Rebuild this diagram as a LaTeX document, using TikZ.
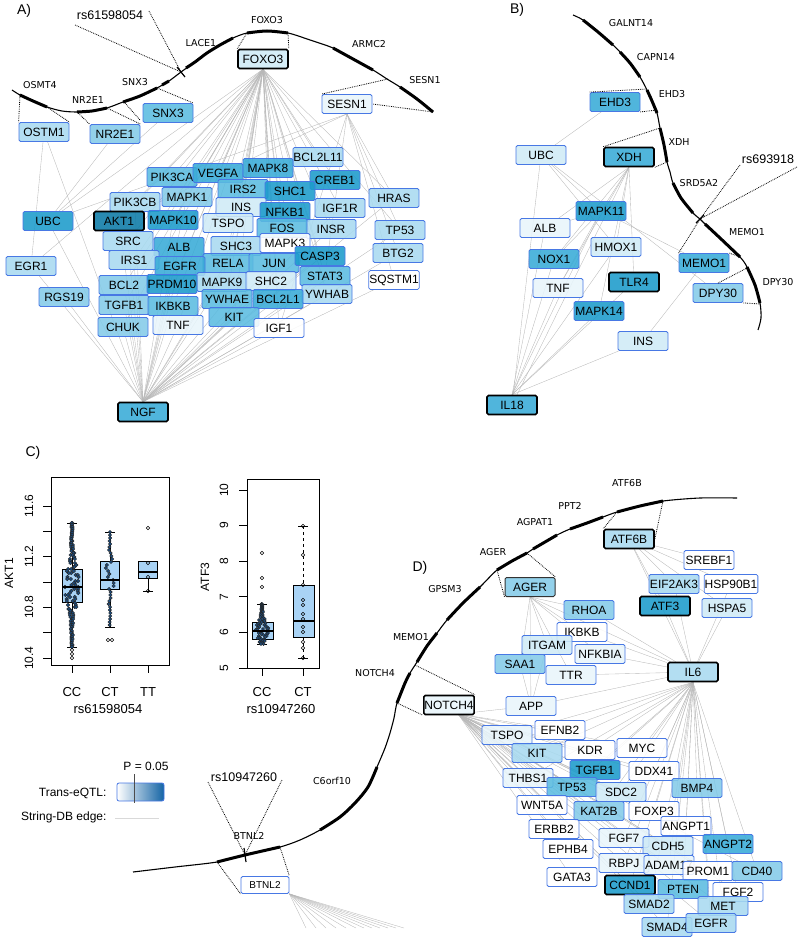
\documentclass[tikz,border=0pt]{standalone}
\usepackage{fontspec}
\setmainfont{Liberation Sans}
\newfontfamily\dvs{DejaVu Sans}
\usetikzlibrary{backgrounds}
\definecolor{nb}{RGB}{72,120,228}
\definecolor{c0}{HTML}{FFFFFF}
\definecolor{c1}{HTML}{E8F5FB}
\definecolor{c2}{HTML}{CFEAF6}
\definecolor{c3}{HTML}{A8DAF0}
\definecolor{c4}{HTML}{84CBE8}
\definecolor{c5}{HTML}{5BBCE0}
\definecolor{c6}{HTML}{38ABD7}
\definecolor{c7}{HTML}{1B9BCB}
\definecolor{c8}{HTML}{0B7AA6}
\definecolor{bxb}{HTML}{A9D3F5}
\definecolor{ptb}{HTML}{1C4C7E}
\definecolor{legb}{HTML}{1464A5}
\tikzset{
  gn/.style={draw=nb, line width=0.8pt, rounded corners=1.5pt, minimum width=50pt, minimum height=19pt, inner sep=0.5pt, font=\fontsize{12}{12}\selectfont, fill opacity=0.88, text opacity=1},
  hl/.style={draw=black, line width=1.6pt},
  edge/.style={draw=black!28, line width=0.35pt},
  dotl/.style={densely dotted, line width=0.8pt},
  chr/.style={line width=1.1pt},
  gene/.style={line width=3pt},
  glab/.style={font=\dvs\fontsize{9.5}{9.5}\selectfont},
  rslab/.style={font=\fontsize{12.5}{12.5}\selectfont},
  plab/.style={font=\fontsize{14}{14}\selectfont},
  axl/.style={font=\fontsize{12}{12}\selectfont},
  pt/.style={draw=black!85, fill=ptb, line width=0.4pt},
  hpt/.style={draw=black, fill=none, line width=0.6pt},
}
\begin{document}
\begin{tikzpicture}[x=1pt,y=-1pt]
\useasboundingbox (0,0) rectangle (799,939);
% ================= Panel A =================
\node[plab] (pA) at (24,11) {A)};
\draw[chr] plot[smooth,tension=0.5] coordinates {(12,90)(20,95)(33,101)(47,107)(62,111)(77,112)(92,111)(107,108)(123,102)(140,96)(157,88)(169,81)(181,72)(195,62)(207,53)(220,45)(233,38)(247,33)(267,31)(288,33)(310,40)(333,48)(353,59)(373,70)(387,79)(400,87)(417,99)(433,112)};
\draw[gene] plot[smooth] coordinates {(20,95)(33,101)(47,107)};
\draw[gene] plot[smooth] coordinates {(77,112)(92,111)(107,108)};
\draw[gene] plot[smooth] coordinates {(123,102)(140,96)(157,88)};
\draw[gene] plot[smooth] coordinates {(162,85)(169,81)};
\draw[gene] plot[smooth] coordinates {(186,68)(195,62)(207,53)(220,45)(233,38)};
\draw[gene] plot[smooth] coordinates {(247,33)(267,31)(288,33)};
\draw[gene] plot[smooth] coordinates {(333,48)(353,59)(373,70)};
\draw[gene] plot[smooth] coordinates {(400,87)(417,99)(433,112)};
\draw[line width=1.2pt] (177,67) -- (185,77);
\node[glab] (lOSMT4) at (40,85) {OSMT4};
\node[glab] (lNR2E1) at (88,100) {NR2E1};
\node[glab] (lSNX3) at (135,82) {SNX3};
\node[glab] (lLACE1) at (201,43) {LACE1};
\node[glab] (lFOXO3) at (267,20) {FOXO3};
\node[glab] (lARMC2) at (369,44) {ARMC2};
\node[glab] (lSESN1) at (425,80) {SESN1};
\node[rslab] (rsA) at (110,15) {rs61598054};
\coordinate (snpA) at (181,72);
\draw[dotl] (75,25) -- (snpA);
\draw[dotl] (149,11) -- (snpA);

\node[gn,fill=c2,hl] (aFOXO3) at (263,59) {FOXO3};
\node[gn,fill=c3] (aOSTM1) at (44,132) {OSTM1};
\node[gn,fill=c4] (aNR2E1) at (115,134) {NR2E1};
\node[gn,fill=c5] (aSNX3) at (168,113) {SNX3};
\node[gn,fill=c1] (aSESN1) at (347,104) {SESN1};
\node[gn,fill=c3] (aBCL2L11) at (318,157) {BCL2L11};
\node[gn,fill=c5] (aPIK3CA) at (172,177) {PIK3CA};
\node[gn,fill=c6] (aVEGFA) at (218,173) {VEGFA};
\node[gn,fill=c6] (aMAPK8) at (268,168) {MAPK8};
\node[gn,fill=c7] (aCREB1) at (335,180) {CREB1};
\node[gn,fill=c5] (aIRS2) at (243,189) {IRS2};
\node[gn,fill=c7] (aSHC1) at (290,191) {SHC1};
\node[gn,fill=c4] (aMAPK1) at (187,197) {MAPK1};
\node[gn,fill=c3] (aPIK3CB) at (135,202) {PIK3CB};
\node[gn,fill=c2] (aINS) at (241,207) {INS};
\node[gn,fill=c3] (aIGF1R) at (340,208) {IGF1R};
\node[gn,fill=c7] (aNFKB1) at (285,212) {NFKB1};
\node[gn,fill=c7] (aUBC) at (48,221) {UBC};
\node[gn,fill=c8,hl] (aAKT1) at (119,221) {AKT1};
\node[gn,fill=c7] (aMAPK10) at (173,220) {MAPK10};
\node[gn,fill=c2] (aTSPO) at (228,223) {TSPO};
\node[gn,fill=c3] (aINSR) at (331,229) {INSR};
\node[gn,fill=c5] (aFOS) at (282,228) {FOS};
\node[gn,fill=c3] (aSRC) at (128,241) {SRC};
\node[gn,fill=c3] (aSHC3) at (236,246) {SHC3};
\node[gn,fill=c0] (aMAPK3) at (285,243) {MAPK3};
\node[gn,fill=c6] (aALB) at (179,247) {ALB};
\node[gn,fill=c3] (aIRS1) at (134,260) {IRS1};
\node[gn,fill=c5] (aRELA) at (228,263) {RELA};
\node[gn,fill=c5] (aJUN) at (274,263) {JUN};
\node[gn,fill=c7] (aCASP3) at (320,256) {CASP3};
\node[gn,fill=c6] (aEGFR) at (180,266) {EGFR};
\node[gn,fill=c3] (aEGR1) at (31,266) {EGR1};
\node[gn,fill=c4] (aBCL2) at (124,285) {BCL2};
\node[gn,fill=c3] (aMAPK9) at (222,282) {MAPK9};
\node[gn,fill=c7] (aPRDM10) at (172,284) {PRDM10};
\node[gn,fill=c2] (aSHC2) at (271,281) {SHC2};
\node[gn,fill=c5] (aSTAT3) at (325,276) {STAT3};
\node[gn,fill=c3] (aYWHAB) at (327,294) {YWHAB};
\node[gn,fill=c4] (aRGS19) at (64,297) {RGS19};
\node[gn,fill=c4] (aTGFB1) at (124,305) {TGFB1};
\node[gn,fill=c5] (aYWHAE) at (227,299) {YWHAE};
\node[gn,fill=c6] (aBCL2L1) at (278,299) {BCL2L1};
\node[gn,fill=c5] (aIKBKB) at (173,306) {IKBKB};
\node[gn,fill=c5] (aKIT) at (234,317) {KIT};
\node[gn,fill=c4] (aCHUK) at (123,327) {CHUK};
\node[gn,fill=c1] (aTNF) at (178,325) {TNF};
\node[gn,fill=c0] (aIGF1) at (279,328) {IGF1};
\node[gn,fill=c3] (aHRAS) at (394,198) {HRAS};
\node[gn,fill=c3] (aTP53) at (400,230) {TP53};
\node[gn,fill=c3] (aBTG2) at (398,253) {BTG2};
\node[gn,fill=c0] (aSQSTM1) at (394,280) {SQSTM1};
\node[gn,fill=c6,hl] (aNGF) at (143,412) {NGF};

\draw[dotl] (20,95) -- (aOSTM1.north west);
\draw[dotl] (47,107) -- (aOSTM1.north east);
\draw[dotl] (77,112) -- (aNR2E1.north west);
\draw[dotl] (107,108) -- (aNR2E1.north east);
\draw[dotl] (125,103) -- (140,120);
\draw[dotl] (157,88) -- (aSNX3.north east);
\draw[dotl] (247,33) -- (aFOXO3.north west);
\draw[dotl] (288,33) -- (aFOXO3.north east);
\draw[dotl] (388,79) -- (aSESN1.north west);
\draw[dotl] (433,112) -- (aSESN1.east);

\begin{pgfonlayer}{background}
\foreach \t in {PIK3CA,VEGFA,MAPK8,IRS2,SHC1,MAPK1,INS,NFKB1,MAPK10,TSPO,FOS,ALB,SHC3,MAPK3,EGFR,RELA,JUN,CASP3,BCL2L11,CREB1,IGF1R,INSR,STAT3,BCL2L1,YWHAB,YWHAE,MAPK9,SHC2,KIT,IGF1,SRC,IRS1,PIK3CB,AKT1,PRDM10,BCL2,TGFB1,IKBKB,TNF,CHUK,UBC,EGR1,HRAS,TP53}
  \draw[edge] (aFOXO3.south) -- (a\t);
\foreach \t in {CHUK,TNF,IKBKB,TGFB1,BCL2,KIT,IGF1,YWHAE,MAPK9,EGR1,RGS19,UBC,OSTM1,PRDM10,EGFR,IRS1,SRC,AKT1,MAPK10,ALB,RELA,SHC2,BCL2L1,YWHAB,STAT3,SQSTM1,BTG2,TP53,HRAS,SHC3,JUN,CASP3,INSR,PIK3CB,MAPK1,IGF1R}
  \draw[edge] (aNGF.north) -- (a\t);
\foreach \t in {HRAS,TP53,BTG2,SQSTM1,AKT1,IGF1,UBC,STAT3}
  \draw[edge] (aSESN1.south) -- (a\t);
\draw[edge] (aUBC) -- (aSNX3);
\draw[edge] (aUBC) -- (aNR2E1);
\draw[edge] (aOSTM1) -- (aEGR1);
\end{pgfonlayer}

% ================= Panel B =================
\node[plab] (pB) at (517,10) {B)};
\draw[chr] plot[smooth,tension=0.5] coordinates {(573,15)(583,20)(598,32)(613,45)(620,52)(630,63)(640,77)(647,90)(652,101)(657,113)(660,128)(664,145)(667,162)(670,172)(673,183)(681,198)(693,213)(700,219)(705,224)(720,238)(740,257)(747,267)(755,285)(760,303)(761,318)(758,330)};
\draw[gene] plot[smooth] coordinates {(583,20)(598,32)(613,45)};
\draw[gene] plot[smooth] coordinates {(620,52)(630,63)(640,77)};
\draw[gene] plot[smooth] coordinates {(647,90)(652,101)(657,113)};
\draw[gene] plot[smooth] coordinates {(660,128)(664,145)(667,162)};
\draw[gene] plot[smooth] coordinates {(673,183)(681,198)(693,213)};
\draw[gene] plot[smooth] coordinates {(705,224)(720,238)(740,257)};
\draw[gene] plot[smooth] coordinates {(747,267)(755,285)(760,303)};
\draw[line width=1.2pt] (696,223) -- (704,215);
\node[glab] (lGALNT14) at (631,23) {GALNT14};
\node[glab] (lCAPN14) at (656,57) {CAPN14};
\node[glab] (lEHD3) at (672,94) {EHD3};
\node[glab] (lXDH) at (679,142) {XDH};
\node[glab] (lSRD5A2) at (699,183) {SRD5A2};
\node[glab] (lMEMO1b) at (747,232) {MEMO1};
\node[glab] (lDPY30) at (778,282) {DPY30};
\node[rslab] (rsB) at (768,159) {rs693918};
\coordinate (snpB) at (700,219);
\draw[dotl] (740,165) -- (snpB);
\draw[dotl] (797,167) -- (snpB);

\node[gn,fill=c6] (bEHD3) at (615,102) {EHD3};
\node[gn,fill=c2] (bUBC) at (541,155) {UBC};
\node[gn,fill=c6,hl] (bXDH) at (629,157) {XDH};
\node[gn,fill=c7] (bMAPK11) at (601,211) {MAPK11};
\node[gn,fill=c1] (bALB) at (545,228) {ALB};
\node[gn,fill=c2] (bHMOX1) at (616,247) {HMOX1};
\node[gn,fill=c6] (bNOX1) at (554,259) {NOX1};
\node[gn,fill=c6] (bMEMO1) at (704,263) {MEMO1};
\node[gn,fill=c1] (bTNF) at (558,288) {TNF};
\node[gn,fill=c7,hl] (bTLR4) at (634,282) {TLR4};
\node[gn,fill=c4] (bDPY30) at (718,293) {DPY30};
\node[gn,fill=c7] (bMAPK14) at (599,311) {MAPK14};
\node[gn,fill=c2] (bINS) at (643,341) {INS};
\node[gn,fill=c6,hl] (bIL18) at (512,405) {IL18};

\draw[dotl] (bEHD3.north west) -- (647,89);
\draw[dotl] (bEHD3.south east) -- (657,110);
\draw[dotl] (bXDH.north west) -- (660,128);
\draw[dotl] (bXDH.south east) -- (667,162);
\draw[dotl] (bMEMO1.north west) -- (snpB);
\draw[dotl] (bMEMO1.north east) -- (740,257);
\draw[dotl] (bDPY30.north) -- (747,268);
\draw[dotl] (bDPY30.south east) -- (760,304);

\begin{pgfonlayer}{background}
\foreach \t in {EHD3,MAPK11,HMOX1,IL18,DPY30}
  \draw[edge] (bUBC) -- (b\t);
\foreach \t in {MAPK11,ALB,HMOX1,NOX1,TNF,TLR4,MAPK14,IL18}
  \draw[edge] (bXDH.south) -- (b\t);
\foreach \t in {MEMO1,NOX1,TNF,ALB}
  \draw[edge] (bMAPK11) -- (b\t);
\foreach \t in {ALB,NOX1,TNF,MAPK14,HMOX1,TLR4,INS,MAPK11}
  \draw[edge] (bIL18.north) -- (b\t);
\draw[edge] (bMEMO1) -- (bINS);
\end{pgfonlayer}

% ================= Panel C =================
\node[plab] (pC) at (33,453) {C)};
% plot 1
\draw[line width=0.7pt] (51,477) rectangle (169,665);
\foreach \y in {506,531.3,556.7,582,607.3,632.7,658} \draw[line width=0.7pt] (43,\y) -- (51,\y);
\foreach \v/\y [count=\i] in {11.6/506,11.2/556.7,10.8/607.3,10.4/658}
  \node[axl,rotate=90] (ya\i) at (29,\y) {\v};
\node[axl,rotate=90] (ylabA) at (9,573) {AKT1};
\foreach \x/\l [count=\i] in {72/CC,110/CT,148/TT}{
  \draw[line width=0.7pt] (\x,665) -- (\x,673);
  \node[axl,font=\fontsize{13}{13}\selectfont] (xa\i) at (\x,692) {\l};
}
\node[axl,font=\fontsize{13}{13}\selectfont] (xlabA) at (108,709) {rs61598054};
% CC
\draw (72,523) -- (72,647); \draw (67,523) -- (77,523); \draw (67,647) -- (77,647);
\draw[fill=bxb] (62,569) rectangle (82,602);
\pgfmathsetseed{7}
\foreach \y in {523,525,...,647}{
  \pgfmathsetmacro\w{0.5+7*exp(-((\y-585)/28)*((\y-585)/28))}
  \foreach \k in {1,2}{
    \pgfmathsetmacro\xx{72+(rnd-0.5)*2*\w}
    \draw[pt] (\xx,\y) circle (1.8pt);
  }
}
\foreach \y in {650,654,658} \draw[hpt] (72,\y) circle (1.7pt);
\draw[line width=2.6pt] (62,587) -- (82,587);
% CT
\draw (110,532) -- (110,627); \draw (105,532) -- (115,532); \draw (105,627) -- (115,627);
\draw[fill=bxb] (100,561) rectangle (119,589);
\foreach \y in {532,535,...,625}{
  \pgfmathsetmacro\w{0.3+5*exp(-((\y-578)/22)*((\y-578)/22))}
  \pgfmathsetmacro\xx{110+(rnd-0.5)*2*\w}
  \draw[pt] (\xx,\y) circle (1.7pt);
}
\draw[hpt] (108,640) circle (1.7pt); \draw[hpt] (112,640) circle (1.7pt);
\draw[line width=2.6pt] (100,580) -- (119,580);
% TT
\draw (148,578) -- (148,591); \draw (143,591) -- (153,591);
\draw[fill=bxb] (138,561) rectangle (157,578);
\draw[line width=2.6pt] (138,572) -- (157,572);
\foreach \y in {563,577,591} \draw[hpt] (148,\y) circle (1.7pt);
\draw[hpt] (148,528) circle (1.8pt);
% plot 2
\draw[line width=0.7pt] (247,479) rectangle (319,668);
\foreach \v/\y [count=\i] in {10/490,9/525.6,8/561.2,7/596.8,6/632.4,5/668}{
  \draw[line width=0.7pt] (239,\y) -- (247,\y);
  \node[axl,rotate=90] (yb\i) at (224,\y) {\v};
}
\node[axl,rotate=90] (ylabB) at (205,577) {ATF3};
\foreach \x/\l [count=\i] in {262/CC,303/CT}{
  \draw[line width=0.7pt] (\x,668) -- (\x,676);
  \node[axl,font=\fontsize{13}{13}\selectfont] (xb\i) at (\x,692) {\l};
}
\node[axl,font=\fontsize{13}{13}\selectfont] (xlabB) at (281,709) {rs10947260};
% CC
\draw (262,604) -- (262,644); \draw (257,604) -- (267,604); \draw (257,644) -- (267,644);
\draw[fill=bxb] (252,622) rectangle (273,639);
\foreach \y in {604,605,...,644}{
  \pgfmathsetmacro\w{0.5+6*exp(-((\y-630)/12)*((\y-630)/12))}
  \foreach \k in {1,2}{
    \pgfmathsetmacro\xx{262+(rnd-0.5)*2*\w}
    \draw[pt] (\xx,\y) circle (1.6pt);
  }
}
\draw[line width=2.6pt] (252,631) -- (273,631);
\foreach \y in {553,578,587} \draw[hpt] (262,\y) circle (1.7pt);
% CT
\draw[dashed] (303,526) -- (303,585); \draw[dashed] (303,637) -- (303,658);
\draw (298,526) -- (308,526); \draw (298,658) -- (308,658);
\draw[fill=bxb] (293,585) rectangle (314,637);
\draw[line width=2.6pt] (293,621) -- (314,621);
\foreach \y in {526,555,585,600,605,614,619,627,632,642,648,658} \draw[hpt] (303,\y) circle (1.7pt);

% legend
\node[axl] (legP) at (146,766) {P = 0.05};
\node[axl,anchor=east] (legT) at (110,793) {Trans-eQTL:};
\node[axl,anchor=east] (legS) at (110,817) {String-DB edge:};
\shade[left color=white,right color=legb,rounded corners=2pt] (117,783) rectangle (164,801);
\draw[nb,line width=0.8pt,rounded corners=2pt] (117,783) rectangle (164,801);
\draw[black!70,line width=0.7pt] (134,774) -- (134,803);
\draw[black!15,line width=1pt] (115,818) -- (159,818);

% ================= Panel D =================
\node[plab] (pD) at (420,568) {D)};
\draw[chr] plot[smooth,tension=0.5] coordinates {(133,872)(175,867)(217,862)(245,855)(280,847)(300,840)(320,830)(340,817)(355,803)(368,787)(377,767)(385,748)(390,733)(394,718)(397,703)(405,683)(410,673)(417,662)(427,646)(437,633)(447,620)(463,603)(480,587)(497,570)(512,561)(527,553)(533,549)(545,542)(557,535)(570,529)(587,523)(603,517)(617,512)(640,506)(663,501)(700,498)(737,498)};
\draw[gene] plot[smooth] coordinates {(217,862)(245,855)(280,847)};
\draw[gene] plot[smooth] coordinates {(320,830)(340,817)(355,803)(368,787)(377,767)};
\draw[gene] plot[smooth] coordinates {(397,703)(405,683)(410,673)};
\draw[gene] plot[smooth] coordinates {(417,662)(427,646)(437,633)};
\draw[gene] plot[smooth] coordinates {(447,620)(463,603)(480,587)};
\draw[gene] plot[smooth] coordinates {(497,570)(512,561)(527,553)};
\draw[gene] plot[smooth] coordinates {(533,549)(545,542)(557,535)};
\draw[gene] plot[smooth] coordinates {(570,529)(587,523)(603,517)};
\draw[gene] plot[smooth] coordinates {(617,512)(640,506)(663,501)};
\draw[line width=1.2pt] (244,848) -- (246,862);
\node[glab] (lBTNL2) at (249,836) {BTNL2};
\node[glab] (lC6) at (332,781) {C6orf10};
\node[glab] (lNOTCH4) at (375,673) {NOTCH4};
\node[glab] (lMEMO1d) at (411,637) {MEMO1};
\node[glab] (lGPSM3) at (445,589) {GPSM3};
\node[glab] (lAGER) at (493,552) {AGER};
\node[glab] (lAGPAT1) at (535,522) {AGPAT1};
\node[glab] (lPPT2) at (570,506) {PPT2};
\node[glab] (lATF6B) at (627,483) {ATF6B};
\node[rslab] (rsD) at (244,777) {rs10947260};
\coordinate (snpD) at (245,855);
\draw[dotl] (208,782) -- (snpD);
\draw[dotl] (282,780) -- (snpD);

\node[gn,fill=c0,minimum width=48pt,minimum height=17pt,font=\fontsize{10}{10}\selectfont] (dBTNL2) at (265,885) {BTNL2};
\draw[dotl] (217,862) -- (dBTNL2.south west);
\draw[dotl] (280,847) -- (dBTNL2.north east);

\node[gn,fill=c3,hl] (dATF6B) at (629,539) {ATF6B};
\node[gn,fill=c0] (dSREBF1) at (709,560) {SREBF1};
\node[gn,fill=c4,draw=black!80,line width=1pt] (dAGER) at (530,587) {AGER};
\node[gn,fill=c3] (dEIF2AK3) at (674,584) {EIF2AK3};
\node[gn,fill=c0] (dHSP90B1) at (731,584) {HSP90B1};
\node[gn,fill=c7,hl] (dATF3) at (665,606) {ATF3};
\node[gn,fill=c4] (dRHOA) at (589,610) {RHOA};
\node[gn,fill=c2] (dHSPA5) at (727,608) {HSPA5};
\node[gn,fill=c0] (dIKBKB) at (582,632) {IKBKB};
\node[gn,fill=c2] (dITGAM) at (547,645) {ITGAM};
\node[gn,fill=c1] (dNFKBIA) at (600,654) {NFKBIA};
\node[gn,fill=c4] (dSAA1) at (520,664) {SAA1};
\node[gn,fill=c1] (dTTR) at (571,675) {TTR};
\node[gn,fill=c3,hl] (dIL6) at (693,672) {IL6};
\node[gn,fill=c1,hl] (dNOTCH4) at (449,705) {NOTCH4};
\node[gn,fill=c1] (dAPP) at (531,706) {APP};
\node[gn,fill=c1] (dTSPO) at (507,735) {TSPO};
\node[gn,fill=c0] (dEFNB2) at (560,730) {EFNB2};
\node[gn,fill=c3] (dKIT) at (537,753) {KIT};
\node[gn,fill=c0] (dKDR) at (590,750) {KDR};
\node[gn,fill=c0] (dMYC) at (642,748) {MYC};
\node[gn,fill=c1] (dTHBS1) at (528,778) {THBS1};
\node[gn,fill=c7] (dTGFB1) at (595,770) {TGFB1};
\node[gn,fill=c0] (dDDX41) at (654,771) {DDX41};
\node[gn,fill=c5] (dTP53) at (572,787) {TP53};
\node[gn,fill=c2] (dSDC2) at (621,792) {SDC2};
\node[gn,fill=c4] (dBMP4) at (697,788) {BMP4};
\node[gn,fill=c0] (dWNT5A) at (542,805) {WNT5A};
\node[gn,fill=c4] (dKAT2B) at (599,811) {KAT2B};
\node[gn,fill=c0] (dFOXP3) at (654,811) {FOXP3};
\node[gn,fill=c0] (dERBB2) at (554,829) {ERBB2};
\node[gn,fill=c0] (dANGPT1) at (686,826) {ANGPT1};
\node[gn,fill=c1] (dFGF7) at (624,838) {FGF7};
\node[gn,fill=c2] (dCDH5) at (668,846) {CDH5};
\node[gn,fill=c6] (dANGPT2) at (728,844) {ANGPT2};
\node[gn,fill=c0] (dEPHB4) at (568,849) {EPHB4};
\node[gn,fill=c1] (dRBPJ) at (624,863) {RBPJ};
\node[gn,fill=c1] (dADAM17) at (669,865) {ADAM17};
\node[gn,fill=c0] (dPROM1) at (708,871) {PROM1};
\node[gn,fill=c4] (dCD40) at (757,871) {CD40};
\node[gn,fill=c0] (dGATA3) at (572,877) {GATA3};
\node[gn,fill=c7,hl] (dCCND1) at (630,885) {CCND1};
\node[gn,fill=c5] (dPTEN) at (683,889) {PTEN};
\node[gn,fill=c0] (dFGF2) at (738,892) {FGF2};
\node[gn,fill=c3] (dSMAD2) at (649,904) {SMAD2};
\node[gn,fill=c3] (dMET) at (723,906) {MET};
\node[gn,fill=c3] (dSMAD4) at (667,927) {SMAD4};
\node[gn,fill=c3] (dEGFR) at (711,923) {EGFR};

\draw[dotl] (617,512) -- (dATF6B.north west);
\draw[dotl] (663,501) -- (dATF6B.east);
\draw[dotl] (497,570) -- (dAGER.south west);
\draw[dotl] (527,553) -- (dAGER.north east);
\draw[dotl] (415,665) -- (dNOTCH4.north east);
\draw[dotl] (397,703) -- (dNOTCH4.south west);

\coordinate (hubN) at (458,714);
\begin{pgfonlayer}{background}
\foreach \t in {RHOA,IKBKB,ITGAM,NFKBIA,SAA1,TTR,APP,IL6}
  \draw[edge] (dAGER.south) -- (d\t);
\foreach \t in {SREBF1,EIF2AK3,HSP90B1,HSPA5,ATF3,IL6}
  \draw[edge] (dATF6B) -- (d\t);
\foreach \t in {ATF3,HSPA5,EIF2AK3,HSP90B1,NFKBIA,IKBKB,TTR,APP,RHOA}
  \draw[edge] (dIL6) -- (d\t);
\foreach \t in {KDR,MYC,TGFB1,DDX41,SDC2,BMP4,FOXP3,KAT2B,ANGPT1,ANGPT2,CDH5,FGF7,PROM1,CD40,FGF2,MET,EGFR,PTEN,SMAD2,SMAD4,CCND1,ADAM17,RBPJ,TP53,EFNB2,KIT,THBS1,TSPO}
  \draw[edge] (dIL6.south) -- (d\t);
\foreach \t in {APP,TSPO,EFNB2,KIT,KDR,TGFB1,THBS1,TP53,SDC2,WNT5A,KAT2B,ERBB2,EPHB4,GATA3,RBPJ,CCND1,FGF7,CDH5,ADAM17,PTEN,SMAD2,SMAD4,FOXP3,ANGPT1,ANGPT2,DDX41,MYC,EGFR,MET,FGF2,PROM1,CD40,BMP4}
  \draw[edge] (hubN) -- (d\t);
\draw[edge] (dSAA1) -- (dAPP);
\draw[edge] (dITGAM) -- (dAPP);
\foreach \i/\x in {1/306,2/316,3/326,4/336,5/346,6/356,7/364,8/372,9/380,10/388,11/396,12/404}{
  \coordinate (bt\i) at (\x,928);
  \draw[edge] (dBTNL2.south east) -- (bt\i);
}
\end{pgfonlayer}
\end{tikzpicture}
\end{document}
